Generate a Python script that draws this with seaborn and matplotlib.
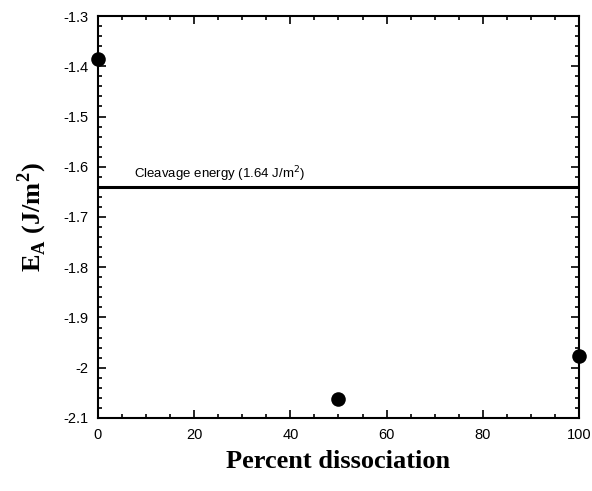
import matplotlib
matplotlib.use("Agg")
import matplotlib.pyplot as plt
import seaborn as sns
import pandas as pd
from matplotlib.ticker import MultipleLocator

percent = [0, 50, 100]
energy = [-1.385, -2.063, -1.976]
cleavage = -1.64
cleavage_label = "Cleavage energy (1.64 J/m$^2$)"

sns.set_style("ticks")
plt.rcParams['font.family'] = ['Liberation Sans', 'DejaVu Sans']
plt.rcParams['text.color'] = 'black'
plt.rcParams['axes.labelcolor'] = 'black'
plt.rcParams['xtick.color'] = 'black'
plt.rcParams['ytick.color'] = 'black'

df = pd.DataFrame({"percent": percent, "energy": energy})

fig = plt.figure(figsize=(5.92, 4.91), dpi=100)
ax = fig.add_axes([0.1655, 0.1487, 0.8125, 0.8187])

ax.axhline(cleavage, color="black", lw=2.2, zorder=2)
sns.scatterplot(data=df, x="percent", y="energy", ax=ax, color="black",
                s=110, edgecolor="black", linewidth=0, zorder=3, clip_on=False)
ax.text(7.5, cleavage + 0.005, cleavage_label, fontsize=9.5, va="bottom", ha="left")

ax.set_xlim(0, 100)
ax.set_ylim(-2.1, -1.3)
ax.xaxis.set_major_locator(MultipleLocator(20))
ax.xaxis.set_minor_locator(MultipleLocator(5))
ax.yaxis.set_minor_locator(MultipleLocator(0.02))
ax.set_yticks([-2.1, -2.0, -1.9, -1.8, -1.7, -1.6, -1.5, -1.4, -1.3])
ax.set_yticklabels(["-2.1", "-2", "-1.9", "-1.8", "-1.7", "-1.6", "-1.5", "-1.4", "-1.3"])
ax.tick_params(which="both", direction="in", top=True, right=True, labelsize=10.5,
               width=1.2, color="black", labelcolor="black")
ax.tick_params(which="major", length=6, pad=7)
ax.tick_params(which="minor", length=3)
for s in ax.spines.values():
    s.set_linewidth(1.5)
    s.set_color("black")

ax.set_xlabel("Percent dissociation", fontsize=19, fontweight="bold",
              family="Liberation Serif", labelpad=6, color="black")
ax.set_ylabel(r"E$_\mathregular{A}$ (J/m$^\mathregular{2}$)", fontsize=19, fontweight="bold",
              family="Liberation Serif", labelpad=10, color="black")

fig.savefig("out.png", dpi=100)
